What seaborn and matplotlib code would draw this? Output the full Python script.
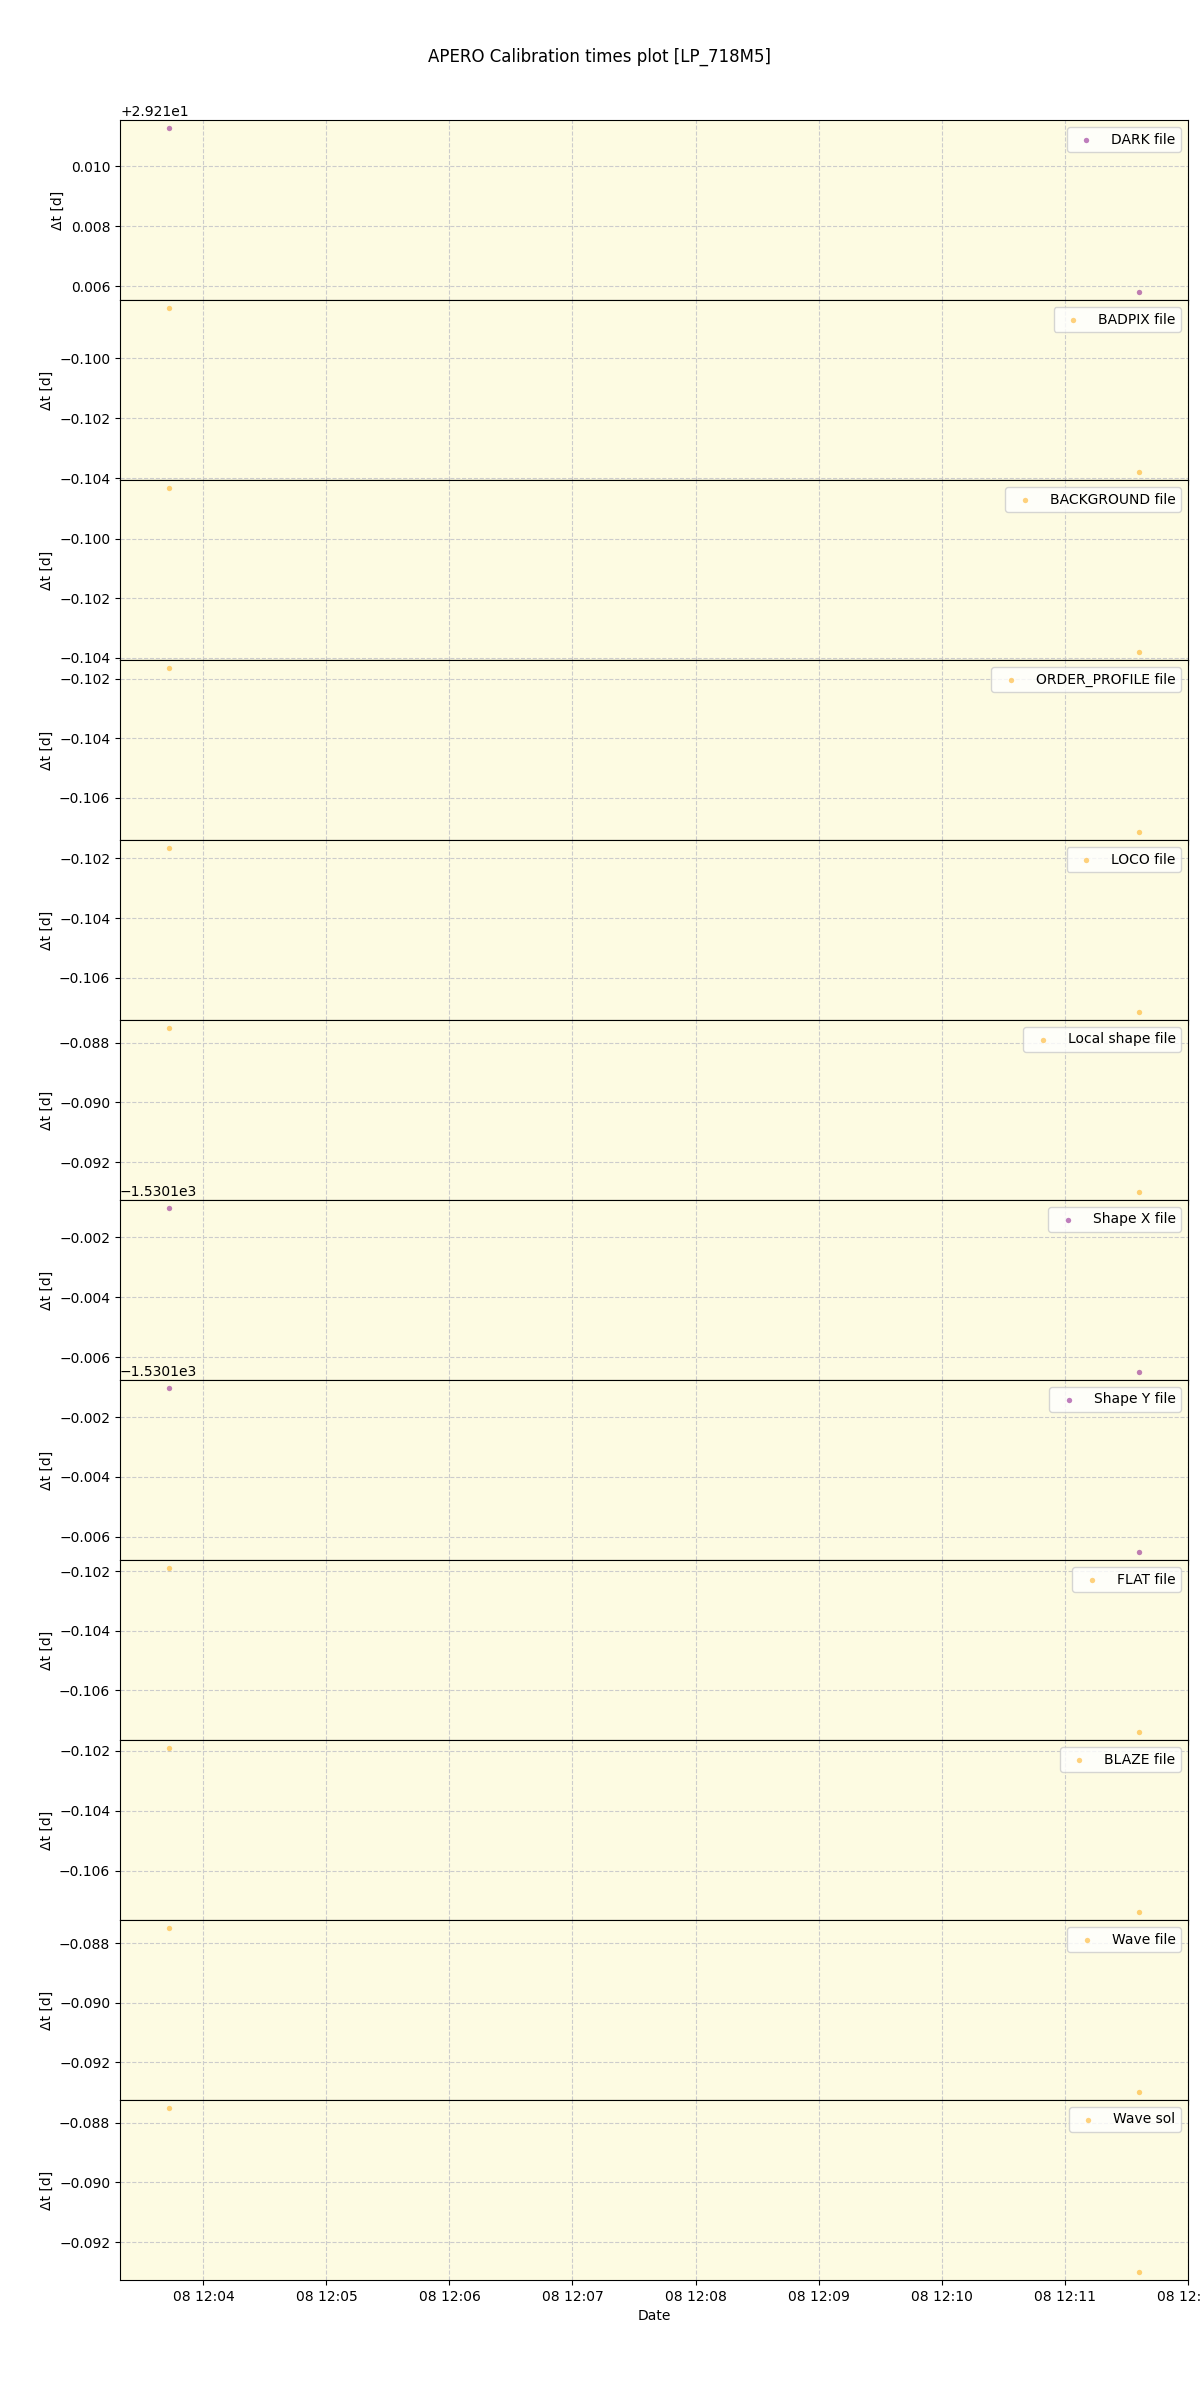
import pandas as pd
import numpy as np
import seaborn as sns
import matplotlib.pyplot as plt

# observation times of the two files
obs_times = pd.to_datetime(['2023-05-08 12:03:43.0', '2023-05-08 12:11:36.5'], format='ISO8601')

# calibration types shown, top to bottom
cal_labels = ['DARK file', 'BADPIX file', 'BACKGROUND file', 'ORDER_PROFILE file',
              'LOCO file', 'Local shape file', 'Shape X file', 'Shape Y file',
              'FLAT file', 'BLAZE file', 'Wave file', 'Wave sol']

# delta t [d] for the first and second observation
dt_first = [29.22128, -0.09832, -0.09831, -0.10164, -0.10167, -0.08751,
            -1530.101033, -1530.101033, -0.10190, -0.10191, -0.08750, -0.08752]
dt_second = [29.21581, -0.10379, -0.10380, -0.10714, -0.10713, -0.09300,
             -1530.10649, -1530.10650, -0.10740, -0.10737, -0.09300, -0.09299]

# which panels use the purple colour
purple_panels = ['DARK file', 'Shape X file', 'Shape Y file']

fig, axes = plt.subplots(len(cal_labels), 1, sharex=True, figsize=(12, 24))
plt.subplots_adjust(hspace=0, left=0.1, right=0.99, top=0.95, bottom=0.05)

for i, label in enumerate(cal_labels):
    ax = axes[i]
    df = pd.DataFrame({'date': obs_times, 'dt': [dt_first[i], dt_second[i]]})
    color = 'purple' if label in purple_panels else 'orange'
    sns.scatterplot(data=df, x='date', y='dt', ax=ax, color=color, alpha=0.5,
                    s=15, linewidth=0, label=label)
    ax.set_facecolor('#fdfbe2')
    ax.grid(True, linestyle='--', color='0.8', linewidth=0.8)
    ax.set_axisbelow(True)
    ax.set_ylabel('Δt [d]')
    ax.set_xlabel('')
    ax.legend(loc='upper right')

axes[-1].set_xlabel('Date')
fig.suptitle('APERO Calibration times plot [LP_718M5]')
plt.savefig('out.png', dpi=100)
